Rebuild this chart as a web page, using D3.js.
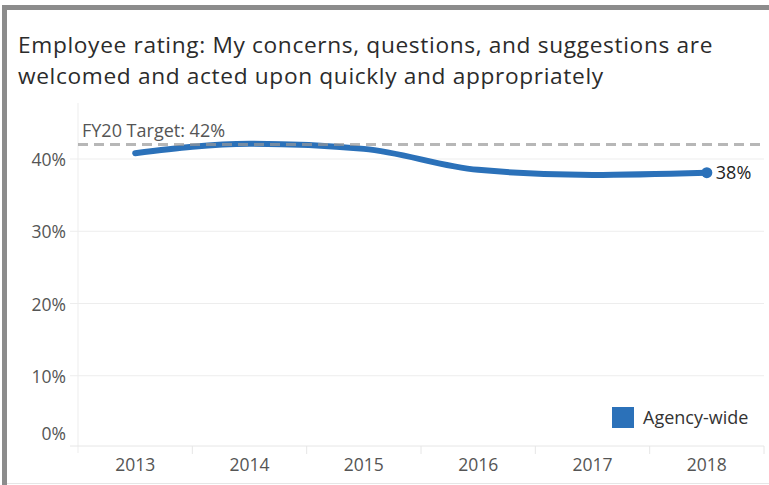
<!DOCTYPE html>
<html>
<head>
<meta charset="utf-8">
<script src="https://cdn.jsdelivr.net/npm/d3@7"></script>
<style>
  body { margin: 0; background: #fff; }
  svg { display: block; font-family: "Open Sans", "Noto Sans", sans-serif; }
</style>
</head>
<body>
<svg id="chart" width="769" height="485"></svg>
<script>
// chart data
const years = ['2013', '2014', '2015', '2016', '2017', '2018'];
const rating = [40.8, 42.1, 41.4, 38.5, 37.8, 38.1];
const yTicks = [0, 10, 20, 30, 40];
const target = 42;
const titleLines = [
    'Employee rating: My concerns, questions, and suggestions are',
    'welcomed and acted upon quickly and appropriately'
];
const seriesName = 'Agency-wide';

const blue = '#2b71b9';
const labelSize = '17.5px';
const noteSize = '18px';
const svg = d3.select('#chart');

// frame
svg.append('rect').attr('x', 2).attr('y', 5).attr('width', 780).attr('height', 5).attr('fill', '#8c8c8c');
svg.append('rect').attr('x', 2).attr('y', 5).attr('width', 5).attr('height', 485).attr('fill', '#8c8c8c');
svg.append('line').attr('x1', 7).attr('x2', 769).attr('y1', 483.5).attr('y2', 483.5)
    .attr('stroke', '#e6e6e6');

// title, one text per line
svg.append('g')
    .selectAll('text')
    .data(titleLines)
    .enter().append('text')
        .attr('x', 18)
        .attr('y', (d, i) => 53 + i * 31)
        .attr('fill', '#2b2b2b')
        .style('font-size', '22.7px')
        .style('letter-spacing', '0.65px')
        .text(d => d);

const margin = {left: 78, right: 5, top: 103, bottom: 38};
const width = +svg.attr('width');
const height = +svg.attr('height');

const x = d3.scaleBand()
    .domain(years)
    .range([margin.left, width - margin.right]);

const y = d3.scaleLinear()
    .domain([0, 40])
    .range([448, 159]);

// gridlines
svg.append('g')
    .selectAll('line')
    .data(yTicks.filter(d => d > 0))
    .enter().append('line')
        .attr('x1', 70).attr('x2', width - margin.right)
        .attr('y1', d => y(d)).attr('y2', d => y(d))
        .attr('stroke', '#ededed');

// left vertical rule
svg.append('line')
    .attr('x1', margin.left).attr('x2', margin.left)
    .attr('y1', margin.top).attr('y2', 453)
    .attr('stroke', '#ededed');

// y labels
svg.append('g')
    .selectAll('text')
    .data(yTicks)
    .enter().append('text')
        .attr('x', 66)
        .attr('y', d => d === 0 ? y(d) - 14 : y(d) + 1)
        .attr('dy', '0.35em')
        .attr('text-anchor', 'end')
        .attr('fill', '#555')
        .style('font-size', labelSize)
        .text(d => d + '%');

// x axis
const xAxis = svg.append('g')
    .attr('transform', `translate(0,${446})`)
    .call(d3.axisBottom(x).tickSize(0).tickPadding(19));
xAxis.select('.domain').remove();
xAxis.selectAll('text')
    .attr('dy', '0.35em')
    .attr('y', 19)
    .attr('fill', '#555')
    .style('font-size', labelSize)
    .style('font-family', '"Open Sans", "Noto Sans", sans-serif');

svg.append('line')
    .attr('x1', 70).attr('x2', width - margin.right)
    .attr('y1', 446).attr('y2', 446)
    .attr('stroke', '#e6e6e6');

svg.append('g')
    .selectAll('line')
    .data(years.slice(1).concat(['end']))
    .enter().append('line')
        .attr('x1', d => d === 'end' ? width - margin.right : x(d))
        .attr('x2', d => d === 'end' ? width - margin.right : x(d))
        .attr('y1', 446).attr('y2', 454)
        .attr('stroke', '#e6e6e6');

// series line
const line = d3.line()
    .x((d, i) => x(years[i]) + x.bandwidth() / 2)
    .y(d => y(d))
    .curve(d3.curveMonotoneX);

svg.append('path')
    .datum(rating)
    .attr('d', line)
    .attr('fill', 'none')
    .attr('stroke', blue)
    .attr('stroke-width', 6)
    .attr('stroke-linecap', 'round');

const last = rating.length - 1;
svg.append('circle')
    .attr('cx', x(years[last]) + x.bandwidth() / 2)
    .attr('cy', y(rating[last]))
    .attr('r', 5.5)
    .attr('fill', blue);

svg.append('text')
    .attr('x', x(years[last]) + x.bandwidth() / 2 + 9)
    .attr('y', y(rating[last]))
    .attr('dy', '0.35em')
    .attr('fill', '#222')
    .style('font-size', noteSize)
    .text(Math.round(rating[last]) + '%');

// target line
svg.append('line')
    .attr('x1', margin.left).attr('x2', width - margin.right)
    .attr('y1', y(target)).attr('y2', y(target))
    .attr('stroke', '#999')
    .attr('stroke-opacity', 0.7)
    .attr('stroke-width', 3)
    .attr('stroke-dasharray', '10,6');

svg.append('text')
    .attr('x', 82)
    .attr('y', y(target) - 8)
    .attr('fill', '#555')
    .style('font-size', noteSize)
    .text(`FY20 Target: ${target}%`);

// legend
const legend = svg.append('g').attr('transform', 'translate(612,407)');
legend.append('rect').attr('width', 22).attr('height', 21).attr('fill', blue);
legend.append('text')
    .attr('x', 31).attr('y', 11)
    .attr('dy', '0.35em')
    .attr('fill', '#333')
    .style('font-size', noteSize)
    .text(seriesName);
</script>
</body>
</html>
